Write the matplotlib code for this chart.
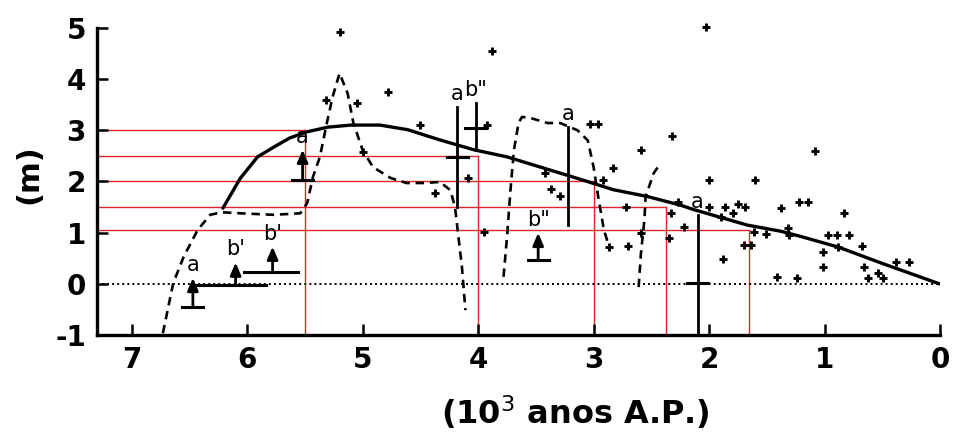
import matplotlib
matplotlib.use("Agg")
import matplotlib.pyplot as plt

plt.rcParams['font.family'] = ['DejaVu Sans']

# ---- data ----
# solid envelope curve
solid_x = [6.21, 6.06, 5.91, 5.77, 5.63, 5.48, 5.30, 5.10, 4.85, 4.61, 4.33, 4.04,
           3.75, 3.46, 3.11, 2.83, 2.54, 2.25, 2.13, 1.67, 1.38, 1.21, 0.88, 0.51, 0.0]
solid_y = [1.48, 2.06, 2.48, 2.67, 2.85, 2.97, 3.06, 3.10, 3.10, 3.01, 2.81, 2.62,
           2.48, 2.28, 2.04, 1.84, 1.71, 1.54, 1.45, 1.15, 1.03, 0.93, 0.72, 0.41, 0.0]

# dashed curve, three segments
dashA_x = [6.73, 6.64, 6.55, 6.43, 6.32, 6.22, 6.06, 5.77, 5.54, 5.48, 5.43, 5.37, 5.31,
           5.26, 5.20, 5.13, 5.08, 5.00, 4.91, 4.76, 4.62, 4.48, 4.33, 4.24, 4.20, 4.17,
           4.14, 4.11]
dashA_y = [-0.96, 0.02, 0.53, 1.05, 1.35, 1.40, 1.38, 1.35, 1.38, 1.58, 2.09, 2.48, 3.14,
           3.65, 4.11, 3.72, 3.14, 2.61, 2.28, 2.07, 1.97, 1.97, 1.99, 1.83, 1.50, 0.91,
           0.33, -0.51]
dashB_x = [3.78, 3.75, 3.72, 3.69, 3.65, 3.62, 3.55, 3.40, 3.29, 3.14, 3.05, 3.00, 2.96,
           2.91, 2.87]
dashB_y = [0.14, 0.91, 1.83, 2.61, 3.14, 3.26, 3.24, 3.14, 3.14, 3.00, 2.80, 2.28, 1.70,
           1.05, 0.76]
dashC_x = [2.61, 2.59, 2.56, 2.55, 2.48, 2.42]
dashC_y = [-0.06, 0.60, 1.25, 1.70, 2.16, 2.36]

# individual observations (+)
pts_x = [5.20, 3.88, 2.03, 4.78, 5.32, 5.05, 4.50, 3.92, 3.03, 2.96, 2.32, 2.59, 1.08,
         2.83, 3.42, 5.00, 4.09, 2.00, 1.60, 2.92, 3.37, 3.29, 4.37, 2.72, 2.27, 2.33,
         2.00, 1.86, 1.75, 1.69, 1.79, 1.38, 1.22, 1.14, 0.83, 2.22, 1.90, 2.59, 2.70,
         2.35, 2.87, 1.88, 1.61, 1.70, 1.64, 1.51, 1.32, 1.31, 0.97, 0.89, 0.79, 0.88,
         1.01, 0.68, 1.01, 0.66, 1.41, 1.24, 0.62, 0.54, 0.49, 0.38, 0.27, 3.95]
pts_y = [4.91, 4.54, 5.01, 3.74, 3.59, 3.53, 3.10, 3.10, 3.12, 3.12, 2.88, 2.61, 2.59,
         2.26, 2.16, 2.57, 2.07, 2.03, 2.03, 2.03, 1.85, 1.72, 1.77, 1.50, 1.60, 1.38,
         1.50, 1.50, 1.56, 1.50, 1.38, 1.48, 1.60, 1.60, 1.38, 1.11, 1.31, 0.99, 0.75,
         0.89, 0.72, 0.49, 1.01, 0.76, 0.76, 0.97, 1.09, 0.96, 0.96, 0.96, 0.96, 0.72,
         0.62, 0.74, 0.33, 0.33, 0.14, 0.12, 0.12, 0.21, 0.12, 0.43, 0.43, 1.01]

# indicator marks: label, x, low, high, kind ('arrow' = minimum, 'bar' = range)
mark_label = ['a', "b'", "b'", 'a', 'a', 'b"', 'a', 'b"', 'a']
mark_x     = [6.47, 6.10, 5.78, 5.52, 4.18, 4.02, 3.22, 3.48, 2.10]
mark_low   = [-0.45, 0.00, 0.23, 2.03, 1.50, 2.61, 1.15, 0.47, -0.96]
mark_high  = [0.12, 0.42, 0.73, 2.62, 3.45, 3.53, 3.06, 1.00, 1.34]
mark_kind  = ['arrow', 'arrow', 'arrow', 'arrow', 'bar', 'bar', 'bar', 'arrow', 'bar']
mark_cap   = [-0.45, None, None, 2.03, 2.47, 3.04, None, 0.47, 0.02]
# horizontal age ranges under the arrows
range_x0 = [6.47, 6.03]
range_x1 = [5.84, 5.56]
range_y  = [-0.02, 0.23]

# red reading lines: level and age where the solid curve reaches it
read_level = [3.0, 2.5, 2.0, 1.5, 1.05]
read_age   = [5.5, 4.0, 3.0, 2.37, 1.65]

x_ticks = [7, 6, 5, 4, 3, 2, 1, 0]
y_ticks = [-1, 0, 1, 2, 3, 4, 5]
x_label = "(10$^3$ anos A.P.)"
y_label = "(m)"

# ---- figure ----
fig = plt.figure(figsize=(9.56, 4.37), dpi=100)
ax = fig.add_axes([0.1015, 0.2327, 0.8818, 0.704])
XMAX, XMIN = 7.3, 0.0
ax.set_xlim(XMAX, XMIN)
ax.set_ylim(-1, 5)

red = '#e3242b'
for lev, age in zip(read_level, read_age):
    ax.plot([XMAX, age], [lev, lev], color=red, lw=1.0, zorder=1)
    ax.plot([age, age], [-1, lev], color=red, lw=1.0, zorder=1)

ax.axhline(0, color='black', lw=1.4, ls=(0, (1, 1.6)), zorder=2)

ax.plot(solid_x, solid_y, color='black', lw=2.4, zorder=3, solid_capstyle='round')
for dx, dy in ((dashA_x, dashA_y), (dashB_x, dashB_y), (dashC_x, dashC_y)):
    ax.plot(dx, dy, color='black', lw=1.9, ls=(0, (3.2, 2.2)), zorder=3)

ax.plot(pts_x, pts_y, ls='none', marker='+', ms=6, mew=2.1, color='black', zorder=4,
        clip_on=False)

cap_w = 0.09
for lab, x, lo, hi, kind, cap in zip(mark_label, mark_x, mark_low, mark_high,
                                     mark_kind, mark_cap):
    if kind == 'arrow':
        ax.annotate('', xy=(x, hi), xytext=(x, lo),
                    arrowprops=dict(arrowstyle='-|>,head_length=0.75,head_width=0.32',
                                    color='black', lw=2.0, shrinkA=0, shrinkB=0),
                    zorder=5)
    else:
        ax.plot([x, x], [lo, hi], color='black', lw=2.0, zorder=5)
    if cap is not None:
        ax.plot([x - cap_w, x + cap_w], [cap, cap], color='black', lw=2.2, zorder=5)
    ax.text(x, hi + 0.06, lab, ha='center', va='bottom', fontsize=15, zorder=6)

for x0, x1, yy in zip(range_x0, range_x1, range_y):
    ax.plot([x0, x1], [yy, yy], color='black', lw=2.2, zorder=5)

# axes styling
for s in ('top', 'right'):
    ax.spines[s].set_visible(False)
for s in ('left', 'bottom'):
    ax.spines[s].set_linewidth(2.4)
ax.set_xticks(x_ticks)
ax.set_yticks(y_ticks)
ax.set_xticklabels([str(t) for t in x_ticks])
ax.set_yticklabels([str(t) for t in y_ticks])
ax.tick_params(direction='in', length=8, width=1.8, labelsize=20, pad=8)
for lbl in ax.get_xticklabels() + ax.get_yticklabels():
    lbl.set_fontweight('bold')
ax.set_xlabel(x_label, fontsize=23, fontweight='bold')
ax.set_ylabel(y_label, fontsize=22, fontweight='bold')
ax.xaxis.set_label_coords(0.567, -0.19)
ax.yaxis.set_label_coords(-0.064, 0.524)

fig.savefig('out.png', dpi=100)
